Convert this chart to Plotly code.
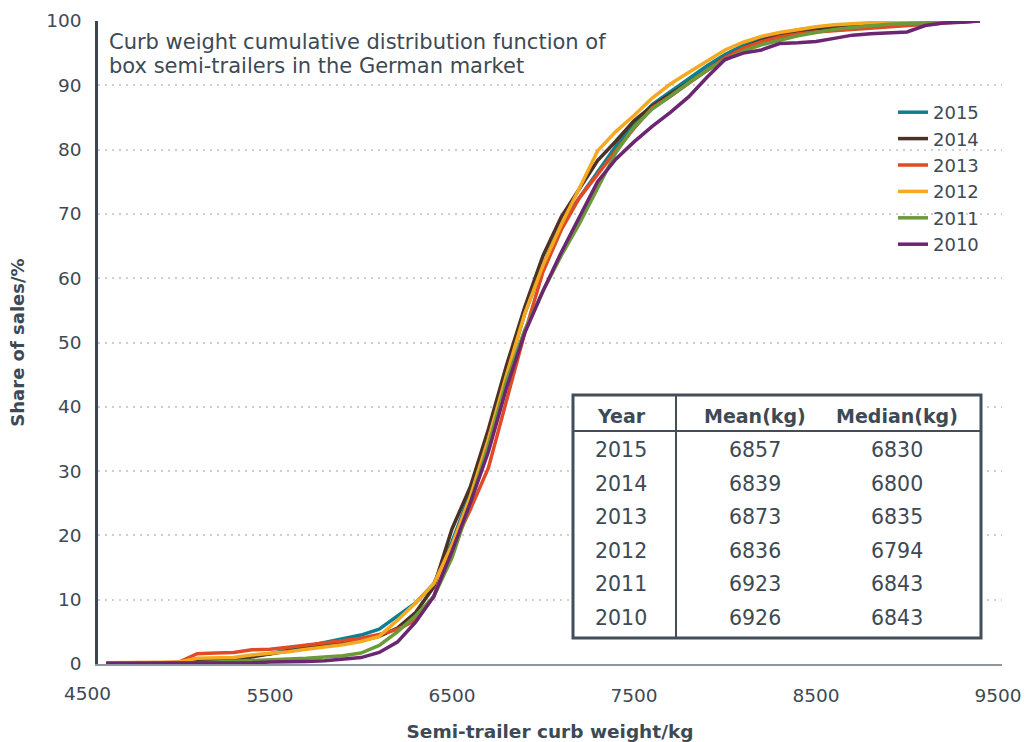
import plotly.graph_objects as go

# ---------------- data ----------------
weights = list(range(4600, 9401, 100))

years = ["2015", "2014", "2013", "2012", "2011", "2010"]
colors = ["#0e7f91", "#4b3126", "#e04b26", "#f4a91f", "#6b9a3b", "#6b2571"]

s2015 = [0.1, 0.1, 0.1, 0.2, 0.2, 0.4, 0.5, 0.6, 1.3, 1.6, 2.2, 2.8, 3.4, 3.9, 4.5,
         5.4, 7.4, 9.5, 12.5, 19.0, 26.5, 35.0, 45.0, 54.5, 62.0, 68.5, 72.5, 76.5, 80.5, 84.0,
         87.0, 89.0, 91.0, 93.0, 94.8, 96.2, 97.3, 98.0, 98.6, 99.0, 99.2, 99.4, 99.6, 99.7, 99.8,
         99.9, 99.9, 100, 100]
s2014 = [0.1, 0.1, 0.1, 0.2, 0.2, 0.6, 0.6, 0.7, 1.1, 1.6, 2.0, 2.4, 2.9, 3.2, 3.6,
         4.3, 5.6, 8.0, 12.0, 21.0, 27.5, 36.5, 46.5, 55.5, 63.5, 69.5, 74.0, 78.3, 81.3, 84.5,
         86.8, 88.6, 90.4, 92.3, 94.3, 95.8, 97.0, 97.8, 98.4, 98.8, 99.0, 99.2, 99.4, 99.5, 99.6,
         99.7, 99.8, 99.9, 100]
s2013 = [0.1, 0.1, 0.2, 0.2, 0.3, 1.6, 1.7, 1.8, 2.2, 2.3, 2.6, 2.9, 3.3, 3.6, 4.0,
         4.6, 5.4, 6.8, 10.5, 18.0, 24.0, 30.5, 41.0, 51.5, 61.0, 67.5, 72.5, 76.2, 79.8, 83.3,
         86.5, 88.3, 90.3, 92.3, 94.3, 95.8, 96.8, 97.5, 98.0, 98.3, 98.5, 98.8, 99.0, 99.2, 99.4,
         99.6, 99.8, 99.9, 100]
s2012 = [0.2, 0.2, 0.2, 0.2, 0.3, 0.9, 1.0, 1.0, 1.4, 1.6, 1.9, 2.3, 2.6, 3.0, 3.5,
         4.3, 6.8, 9.5, 12.5, 18.5, 26.0, 35.0, 45.0, 54.5, 62.0, 68.3, 74.0, 79.8, 82.8, 85.3,
         88.0, 90.2, 92.0, 93.8, 95.5, 96.7, 97.6, 98.2, 98.7, 99.1, 99.4, 99.6, 99.8, 99.9, 100,
         100, 100, 100, 100]
s2011 = [0.1, 0.1, 0.1, 0.1, 0.2, 0.2, 0.3, 0.4, 0.5, 0.6, 0.7, 0.9, 1.1, 1.3, 1.7,
         2.9, 5.0, 7.5, 10.5, 16.5, 25.0, 34.0, 44.0, 52.0, 58.0, 63.5, 68.5, 74.0, 79.5, 83.5,
         86.3, 88.3, 90.4, 92.3, 94.0, 95.3, 96.3, 97.0, 97.7, 98.2, 98.7, 99.0, 99.3, 99.5, 99.6,
         99.7, 99.8, 99.9, 100]
s2010 = [0.1, 0.1, 0.1, 0.1, 0.1, 0.1, 0.15, 0.2, 0.2, 0.3, 0.3, 0.4, 0.5, 0.7, 1.0,
         1.8, 3.4, 6.5, 10.5, 17.5, 25.0, 33.0, 43.0, 51.5, 58.0, 64.0, 69.5, 75.0, 78.5, 81.2,
         83.6, 85.8, 88.2, 91.2, 94.0, 95.0, 95.5, 96.5, 96.6, 96.8, 97.3, 97.8, 98.0, 98.1, 98.3,
         99.3, 99.7, 99.8, 100]
series = [s2015, s2014, s2013, s2012, s2011, s2010]

x_ticks = [4500, 5500, 6500, 7500, 8500, 9500]
y_ticks = list(range(0, 101, 10))

table_header = ["Year", "Mean(kg)", "Median(kg)"]
table_years = ["2015", "2014", "2013", "2012", "2011", "2010"]
table_mean = [6857, 6839, 6873, 6836, 6923, 6926]
table_median = [6830, 6800, 6835, 6794, 6843, 6843]

title_lines = ["Curb weight cumulative distribution function of",
               "box semi-trailers in the German market"]

# ---------------- style ----------------
FONT = "DejaVu Sans"
TXT = "#3d4a55"
W, H = 1025, 742
ML, MR, MT, MB = 98, 23, 21, 78
x_range = [4555, 9522]

fig = go.Figure()
for name, ys, col in zip(years, series, colors):
    fig.add_trace(go.Scatter(x=weights, y=ys, mode="lines", name=name,
                             line=dict(color=col, width=3.5)))

pw, ph = W - ML - MR, H - MT - MB
def px(xp):
    return (xp - ML) / pw
def py(yp):
    return (H - MB - yp) / ph

fig.update_layout(
    width=W, height=H,
    margin=dict(l=ML, r=MR, t=MT, b=MB, autoexpand=False),
    paper_bgcolor="white", plot_bgcolor="white",
    font=dict(family=FONT, size=18, color=TXT),
    showlegend=True,
    legend=dict(x=px(893), y=py(94), xanchor="left", yanchor="top", bgcolor="rgba(0,0,0,0)",
                font=dict(size=18, color=TXT), itemwidth=30, tracegroupgap=0),
)

visible_ticks = [t for t in x_ticks if x_range[0] <= t <= x_range[1]]
fig.update_xaxes(range=x_range, tickmode="array", tickvals=visible_ticks,
                 ticktext=[str(t) for t in visible_ticks],
                 showgrid=False, zeroline=False, showline=True, linecolor="#8e959b", linewidth=2,
                 ticks="", ticklabelstandoff=14, tickfont=dict(size=18.5, color=TXT),
                 title=dict(text="Semi-trailer curb weight/kg", standoff=20,
                            font=dict(size=18.5, color=TXT, weight="bold")))
fig.update_yaxes(range=[0, 100], tickmode="array", tickvals=y_ticks,
                 showgrid=True, gridcolor="#cfcfcf", gridwidth=2, griddash="2px,5px",
                 zeroline=False, showline=True, linecolor="#3d4650", linewidth=2.5,
                 ticks="", ticklabelstandoff=10, tickfont=dict(size=18.5, color=TXT),
                 title=dict(text="Share of sales/%", standoff=17,
                            font=dict(size=18, color=TXT, weight="bold")))

# tick label left of the axis start (4500)
for t in x_ticks:
    if t < x_range[0]:
        fig.add_annotation(xref="paper", yref="paper",
                           x=(t - x_range[0]) / (x_range[1] - x_range[0]), y=0,
                           yshift=-29, text=str(t), showarrow=False,
                           font=dict(size=18.5, color=TXT), xanchor="center", yanchor="middle")

# in-chart title (two lines)
for i, line in enumerate(title_lines):
    fig.add_annotation(xref="paper", yref="paper", x=px(107), y=py(42 + 24 * i),
                       xanchor="left", yanchor="middle",
                       text=line, showarrow=False, align="left",
                       font=dict(size=21, color=TXT))

# ---------------- table inset ----------------
tb_l, tb_r, tb_t, tb_b = 573, 981, 395, 638
col_div, head_div = 676, 431
fig.add_shape(type="rect", xref="paper", yref="paper", x0=px(tb_l), x1=px(tb_r), y0=py(tb_b), y1=py(tb_t),
              line=dict(color="#434e58", width=3), fillcolor="white", layer="above")
fig.add_shape(type="line", xref="paper", yref="paper", x0=px(col_div), x1=px(col_div), y0=py(tb_b), y1=py(tb_t),
              line=dict(color="#434e58", width=2), layer="above")
fig.add_shape(type="line", xref="paper", yref="paper", x0=px(tb_l), x1=px(tb_r), y0=py(head_div), y1=py(head_div),
              line=dict(color="#434e58", width=2), layer="above")

col_x = [621, 755, 897]
head_y = 416
row_y0, row_dy = 450, 33.6
for cx, htxt in zip(col_x, table_header):
    fig.add_annotation(xref="paper", yref="paper", x=px(cx), y=py(head_y), text=htxt, showarrow=False,
                       xanchor="center", yanchor="middle", font=dict(size=19, color=TXT, weight="bold"))
for i, (yr, mn, md) in enumerate(zip(table_years, table_mean, table_median)):
    yy = py(row_y0 + i * row_dy)
    for cx, val in zip(col_x, [yr, mn, md]):
        fig.add_annotation(xref="paper", yref="paper", x=px(cx), y=yy, text=str(val), showarrow=False,
                           xanchor="center", yanchor="middle", font=dict(size=20.5, color=TXT))

fig.write_html("out.html", config={"displayModeBar": False},
               post_script="document.body.style.margin='0';document.body.style.padding='0';")
